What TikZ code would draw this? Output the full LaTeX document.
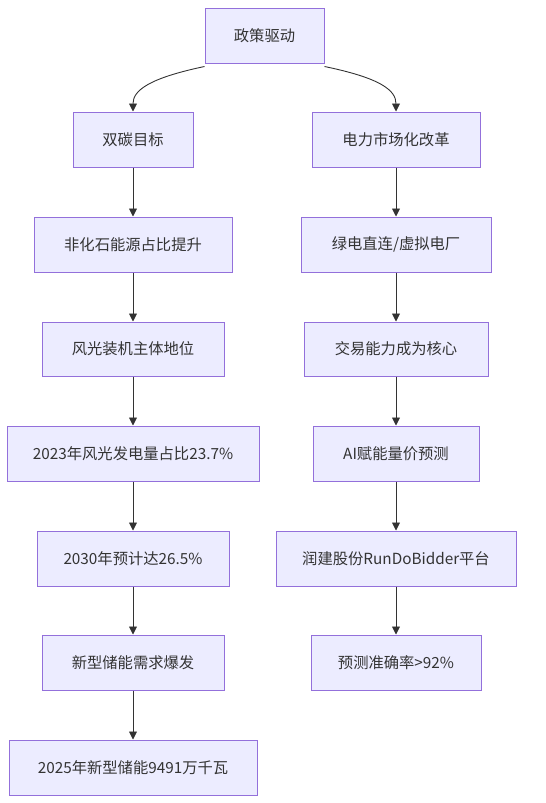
\documentclass[tikz,border=0pt]{standalone}
\usepackage{fontspec}
\setmainfont{Noto Sans CJK SC}
\usetikzlibrary{arrows.meta}
\definecolor{boxfill}{HTML}{ECECFF}
\definecolor{boxline}{HTML}{9370DB}
\definecolor{txt}{HTML}{333333}
\begin{document}
\begin{tikzpicture}[x=1pt,y=-1pt,
  box/.style={draw=boxline,fill=boxfill,line width=1pt,text=txt,font=\fontsize{15.3}{17}\selectfont,anchor=center,inner sep=0pt},
  conn/.style={draw=txt,line width=0.9pt,-{Triangle[length=8pt,width=8pt]}}]
\useasboundingbox (0,0) rectangle (546,803);
\newcommand{\mybox}[6]{\node[box,minimum width=#3-#2,minimum height=#5-#4] (#1) at ({(#2+#3)/2},{(#4+#5)/2}) {#6};}
\mybox{top}{205}{324}{8}{63}{政策驱动}
\mybox{a1}{73}{193}{112}{167}{双碳目标}
\mybox{b1}{312}{480}{112}{167}{电力市场化改革}
\mybox{a2}{34}{232}{217}{272}{非化石能源占比提升}
\mybox{b2}{301}{491}{217}{272}{绿电直连/虚拟电厂}
\mybox{a3}{42}{224}{322}{376}{风光装机主体地位}
\mybox{b3}{304}{488}{322}{376}{交易能力成为核心}
\mybox{a4}{7}{259}{426}{481}{2023年风光发电量占比23.7\%}
\mybox{b4}{313}{479}{426}{481}{AI赋能量价预测}
\mybox{a5}{37}{229}{531}{586}{2030年预计达26.5\%}
\mybox{b5}{276}{516}{531}{586}{润建股份RunDoBidder平台}
\mybox{a6}{42}{224}{635}{690}{新型储能需求爆发}
\mybox{b6}{311}{481}{635}{690}{预测准确率>92\%}
\mybox{a7}{9}{257}{740}{795}{2025年新型储能9491万千瓦}
\draw[conn] ([yshift=-3pt]top.south west) .. controls (150,78) and (133,90) .. (a1.north);
\draw[conn] ([yshift=-3pt]top.south east) .. controls (380,78) and (396,90) .. (b1.north);
\foreach \u/\v in {a1/a2,a2/a3,a3/a4,a4/a5,a5/a6,a6/a7,b1/b2,b2/b3,b3/b4,b4/b5,b5/b6}
  \draw[conn] (\u.south) -- (\u.south |- \v.north);
\end{tikzpicture}
\end{document}
